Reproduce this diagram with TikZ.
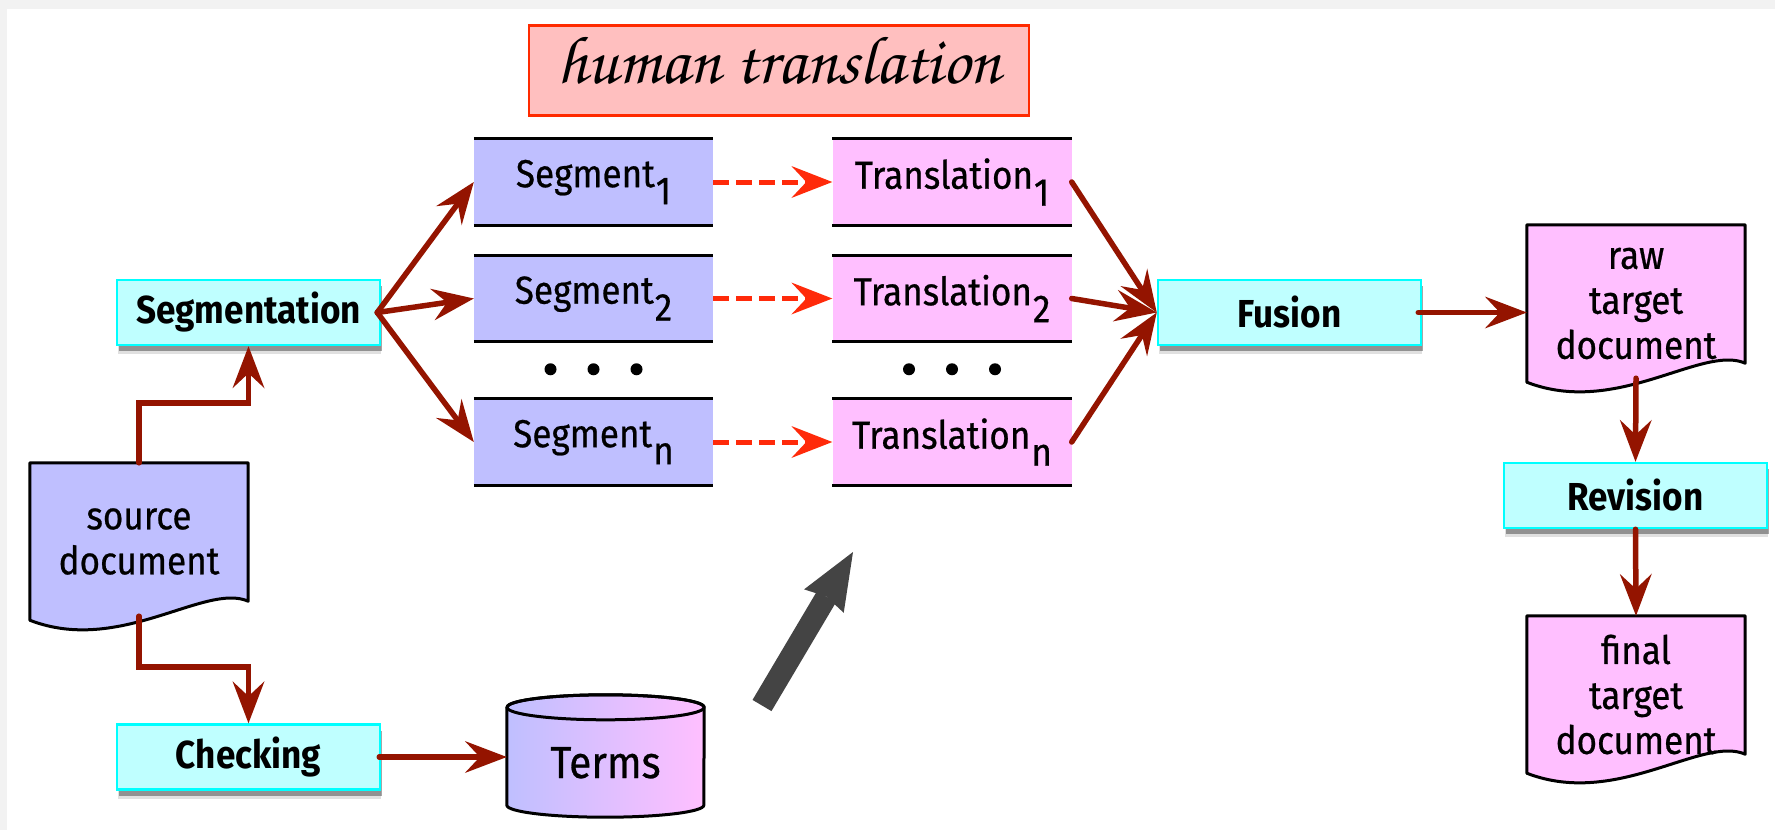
\documentclass[tikz,border=0pt]{standalone}
\usepackage[T1]{fontenc}
\usepackage{fontspec}
\setmainfont{Fira Sans}[FakeStretch=0.9, UprightFeatures={FakeBold=0.6}]
\usetikzlibrary{arrows.meta,shadows,calc}

\definecolor{pagegray}{HTML}{F2F2F2}
\definecolor{cyanfill}{HTML}{BFFFFF}
\definecolor{cyanline}{HTML}{00FFFF}
\definecolor{segfill}{HTML}{BFBFFF}
\definecolor{trfill}{HTML}{FFBFFF}
\definecolor{htfill}{HTML}{FFBFBF}
\definecolor{htline}{HTML}{FF2A00}
\definecolor{arrowred}{HTML}{941400}
\definecolor{dashred}{HTML}{FF2A0A}
\definecolor{arrgray}{HTML}{444444}

\newcommand\handfont{\fontencoding{T1}\fontfamily{pzc}\fontseries{mb}\fontshape{it}\fontsize{68}{68}\selectfont}
\newcommand\lowsub[1]{\kern1pt\raisebox{-17pt}{#1}}

\pgfdeclarelayer{page}
\pgfdeclarelayer{shapes}
\pgfsetlayers{page,shapes,main}

% document symbol with a wavy lower edge, drawn round a node
\newcommand\docoutline[2]{%
  \draw[docline, fill=#2] (#1.north west) -- (#1.north east)
    -- ([yshift=19pt]#1.south east)
    .. controls ([xshift=-43pt,yshift=38pt]#1.south east)
       and ([xshift=90pt,yshift=-35pt]#1.south west) .. (#1.south west)
    -- cycle;}

\begin{document}
\begin{tikzpicture}[x=1pt,y=-1pt,
  procbox/.style={draw=cyanline, line width=2.5pt, fill=cyanfill,
    minimum width=263pt, minimum height=65pt, inner sep=0pt,
    font=\fontsize{39}{45}\selectfont\bfseries,
    general shadow={shadow xshift=1pt, shadow yshift=-9pt, fill=black, opacity=0.12},
    general shadow={shadow xshift=2pt, shadow yshift=-6pt, fill=black, opacity=0.35}},
  segbox/.style={fill=segfill, minimum width=239pt, minimum height=86pt,
    inner sep=0pt, font=\fontsize{39}{45}\selectfont},
  trbox/.style={segbox, fill=trfill},
  rule/.style={draw=black, line width=3pt},
  docnode/.style={minimum width=218pt, minimum height=157pt, inner sep=0pt,
    align=center, font=\fontsize{39}{45}\selectfont},
  docline/.style={draw=black, line width=3pt, line join=round},
  termsnode/.style={minimum width=197pt, minimum height=122pt, inner sep=0pt,
    text height=44pt, text depth=0pt, font=\fontsize{45}{50}\selectfont},
  htbox/.style={draw=htline, fill=htfill, line width=2.5pt,
    minimum width=500pt, minimum height=90pt, inner sep=0pt,
    text height=25pt, text depth=0pt, font=\handfont},
  conn/.style={draw=arrowred, line width=5.5pt, line cap=round,
    -{Stealth[length=42pt,width=32pt,inset=15pt,line width=0pt]}},
  dashconn/.style={draw=dashred, line width=5pt, dash pattern=on 16pt off 7pt,
    -{Stealth[length=41pt,width=32pt,inset=15pt,line width=0pt]}},
  bigarrow/.style={draw=arrgray, line width=22pt,
    -{Stealth[length=57pt,width=46pt,inset=5pt,line width=0pt]}},
  dot/.style={fill=black}
]
% page
\begin{pgfonlayer}{page}
  \fill[pagegray] (0,0) rectangle (1775,830);
  \fill[white] (7,9) rectangle (1775,830);
\end{pgfonlayer}
\useasboundingbox (0,0) rectangle (1775,830);

% title
\node[htbox] (ht) at (779,70.5) {human translation};

% process boxes
\node[procbox] (segm) at (248.5,312.5) {Segmentation};
\node[procbox] (chk)  at (248.5,757) {Checking};
\node[procbox] (fus)  at (1289.5,312.5) {Fusion};
\node[procbox] (rev)  at (1635.5,495.5) {Revision};

% segments and translations
\node[segbox] (s1) at (593.5,182) {Segment\lowsub{1}};
\node[segbox] (s2) at (593.5,298.5) {Segment\lowsub{2}};
\node[segbox] (sn) at (593.5,442) {Segment\lowsub{n}};
\node[trbox] (t1) at (952,182) {Translation\lowsub{1}};
\node[trbox] (t2) at (952,298.5) {Translation\lowsub{2}};
\node[trbox] (tn) at (952,442) {Translation\lowsub{n}};
\foreach \b in {s1,s2,sn,t1,t2,tn}{
  \draw[rule] (\b.north west) -- (\b.north east);
  \draw[rule] (\b.south west) -- (\b.south east);
}
\foreach \dx in {-43,0,43}{
  \fill[dot] ($(s2.south)!0.5!(sn.north)+(\dx,-1)$) circle[radius=6pt];
  \fill[dot] ($(t2.south)!0.5!(tn.north)+(\dx,-1)$) circle[radius=6pt];
}

% documents
\node[docnode] (src) at (139,541.5) {source\\document};
\node[docnode] (raw) at (1636,303.5) {raw\\target\\document};
\node[docnode] (fin) at (1636,694.5) {final\\target\\document};

% term base
\node[termsnode] (terms) at (605.5,756) {Terms};

\begin{pgfonlayer}{shapes}
  \docoutline{src}{segfill}
  \docoutline{raw}{trfill}
  \docoutline{fin}{trfill}
  \draw[docline, left color=segfill, right color=trfill]
    ([yshift=-12.5pt]terms.north west) -- ([yshift=12pt]terms.south west)
    arc[start angle=180, end angle=360, x radius=98.5pt, y radius=12pt]
    -- ([yshift=-12.5pt]terms.north east)
    arc[start angle=0, end angle=180, x radius=98.5pt, y radius=12.5pt]
    -- cycle;
  \draw[docline] ([yshift=-12.5pt]terms.north) ellipse[x radius=98.5pt, y radius=12.5pt];
\end{pgfonlayer}

% connectors
\draw[conn] (src.north) -- ++(0,-60) -| (segm.south);
\draw[conn] ([yshift=4pt]src.south) -- ++(0,51) -| (chk.north);
\draw[conn] ([xshift=-2pt]chk.east) -- (chk.east -| terms.west);
\foreach \b in {s1,s2,sn}
  \draw[conn] ([xshift=-4pt]segm.east) -- (\b.west);
\draw[dashconn] (s1.east) -- (t1.west);
\draw[dashconn] (s2.east) -- (t2.west);
\draw[dashconn] (sn.east) -- (tn.west);
\foreach \b in {t1,t2,tn}
  \draw[conn] (\b.east) -- (fus.west);
\draw[conn] ([xshift=-4pt]fus.east) -- (fus.east -| raw.west);
\draw[conn] ([yshift=4pt]raw.south) -- (rev.north);
\draw[conn] (rev.south) -- (fin.north);

% term base feeds the translators
\coordinate (gtail) at (762,705.5);
\coordinate (gtip) at (853,552);
\draw[bigarrow] (gtail) -- (gtip);
\end{tikzpicture}
\end{document}
